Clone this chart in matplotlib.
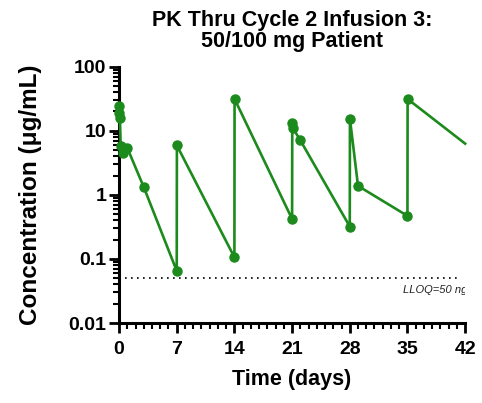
import matplotlib
matplotlib.use("Agg")
import matplotlib.pyplot as plt
from matplotlib.ticker import MultipleLocator, LogLocator, NullFormatter, FixedLocator

plt.rcParams['font.family'] = ['Liberation Sans', 'DejaVu Sans']

# time (days) and concentration (ug/mL)
days = [0.0, 0.05, 0.1, 0.2, 0.5, 1.0, 3.0,
        7.0, 7.02,
        14.0, 14.02,
        21.0, 21.02, 21.1, 22.0,
        28.0, 28.02, 29.0,
        35.0, 35.02, 42.0]
conc = [24, 19, 16, 5.7, 4.5, 5.4, 1.32,
        0.065, 5.9,
        0.106, 31.3,
        0.42, 13.0, 11.0, 7.1,
        0.32, 15.4, 1.38,
        0.47, 31.3, 6.3]
show_marker = [True] * (len(days) - 1) + [False]

lloq = 0.05
x_major = [0, 7, 14, 21, 28, 35, 42]
y_major = [0.01, 0.1, 1, 10, 100]
y_labels = ["0.01", "0.1", "1", "10", "100"]

green = "#1c8a1c"

fig = plt.figure(figsize=(4.82, 4.03), dpi=100)
ax = fig.add_axes([0.247, 0.1985, 0.718, 0.636])

ax.plot(days, conc, color=green, linewidth=1.9, marker="o", markersize=6.5,
        markevery=show_marker, clip_on=False, zorder=3)

ax.axhline(lloq, xmin=0, xmax=0.985, color="black", linestyle=(0, (1, 2.6)), linewidth=1.2)
# the label runs past the plot edge and is clipped, as in the original figure
ax.text(34.5, 0.033, "LLOQ=50 ng/mL", fontsize=8, style="italic", color="#222222",
        va="center", ha="left", clip_on=True)

ax.set_yscale("log")
ax.set_ylim(0.01, 100)
ax.set_xlim(0, 42)

ax.yaxis.set_major_locator(FixedLocator(y_major))
ax.set_yticklabels(y_labels)
ax.yaxis.set_minor_locator(LogLocator(base=10, subs=range(2, 10)))
ax.yaxis.set_minor_formatter(NullFormatter())
ax.set_xticks(x_major)
ax.xaxis.set_minor_locator(MultipleLocator(1))

for s in ["top", "right"]:
    ax.spines[s].set_visible(False)
for s in ["left", "bottom"]:
    ax.spines[s].set_linewidth(2.2)

ax.tick_params(which="major", length=7, width=2.0, labelsize=14)
ax.tick_params(axis="x", which="major", pad=6)
ax.tick_params(axis="y", which="major", pad=2)
ax.tick_params(which="minor", length=4, width=1.5)
for lab in ax.get_xticklabels() + ax.get_yticklabels():
    lab.set_fontweight("bold")

ax.set_title("PK Thru Cycle 2 Infusion 3:\n50/100 mg Patient", fontsize=15.5,
             fontweight="bold", pad=14, linespacing=1.0)
ax.set_xlabel("Time (days)", fontsize=15.5, fontweight="bold", labelpad=8)
ax.set_ylabel("Concentration (\u03bcg/mL)", fontsize=17.5, fontweight="bold", labelpad=19)

fig.savefig("out.png", dpi=100)
